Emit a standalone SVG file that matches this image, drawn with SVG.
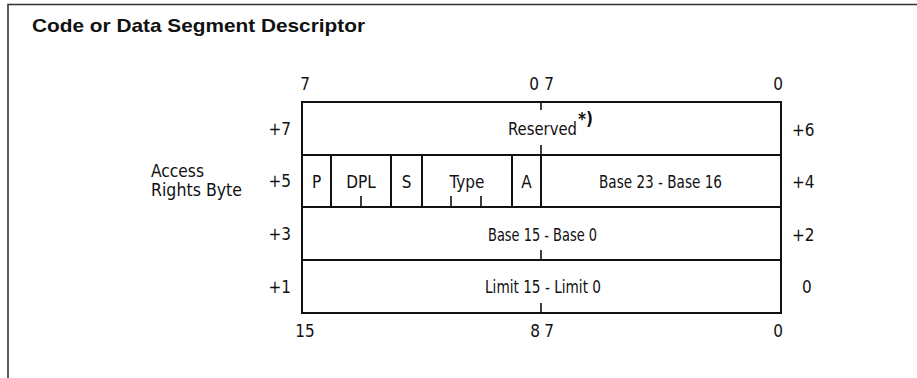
<svg xmlns="http://www.w3.org/2000/svg" width="917" height="378" viewBox="0 0 917 378">
<style>
.t{font-family:"DejaVu Sans Condensed","DejaVu Sans",sans-serif;font-stretch:condensed;font-size:17px;fill:#111}
.m{text-anchor:middle}
.e{text-anchor:end}
.ln{stroke:#111;stroke-width:2;fill:none}
.tk{stroke:#111;stroke-width:1.6}
.ttl{font-family:"Liberation Sans",Arial,sans-serif;font-weight:bold;font-size:18.5px;fill:#111}
</style>
<rect width="917" height="378" fill="#fff"/>
<g id="frame">
<path d="M8 378 V4.5 H917" stroke="#333" stroke-width="1.6" fill="none"/>
<text class="ttl" x="32" y="32" textLength="333" lengthAdjust="spacingAndGlyphs">Code or Data Segment Descriptor</text>
</g>
<g id="bit-labels" class="t">
<text class="m" x="305" y="90">7</text>
<text class="m" x="534" y="90">0</text>
<text class="m" x="549" y="90">7</text>
<text class="m" x="778" y="90">0</text>
<text class="m" x="305" y="337">15</text>
<text class="m" x="535" y="337">8</text>
<text class="m" x="549" y="337">7</text>
<text class="m" x="778" y="337">0</text>
</g>
<g id="offsets" class="t">
<text class="e" x="291" y="135">+7</text>
<text class="e" x="291" y="187">+5</text>
<text class="e" x="291" y="240">+3</text>
<text class="e" x="291" y="293">+1</text>
<text x="792" y="136">+6</text>
<text x="792" y="188">+4</text>
<text x="792" y="241">+2</text>
<text x="802" y="293">0</text>
</g>
<g id="access-rights-label" class="t">
<text x="151" y="177" textLength="53" lengthAdjust="spacingAndGlyphs">Access</text>
<text x="151" y="196" textLength="91" lengthAdjust="spacingAndGlyphs">Rights Byte</text>
</g>
<g id="row-reserved">
<rect class="ln" x="302" y="102" width="479" height="53"/>
<text class="t" x="508" y="135" textLength="69" lengthAdjust="spacingAndGlyphs">Reserved</text>
<text class="t" x="578" y="125" font-size="15" font-weight="bold">*)</text>
</g>
<g id="row-access">
<rect class="ln" x="302" y="155" width="479" height="52"/>
<text class="t m" x="316.5" y="188">P</text>
<text class="t m" x="361" y="188">DPL</text>
<text class="t m" x="406.5" y="188">S</text>
<text class="t m" x="467" y="188">Type</text>
<text class="t m" x="526.5" y="188">A</text>
<text class="t" x="599" y="188" textLength="123" lengthAdjust="spacingAndGlyphs">Base 23 - Base 16</text>
</g>
<g id="row-base15">
<rect class="ln" x="302" y="207" width="479" height="53"/>
<text class="t" x="488" y="241" textLength="109" lengthAdjust="spacingAndGlyphs">Base 15 - Base 0</text>
</g>
<g id="row-limit">
<rect class="ln" x="302" y="260" width="479" height="53"/>
<text class="t" x="485" y="293" textLength="116" lengthAdjust="spacingAndGlyphs">Limit 15 - Limit 0</text>
</g>
<g id="dividers">
<path class="ln" d="M331 155V207M391 155V207M422 155V207M512 155V207M541 155V207"/>
<path class="tk" d="M541 102V110M541 145V155M361 196V207M451 196V207M481 196V207M541 250V260M541 303V313"/>
</g>
</svg>
